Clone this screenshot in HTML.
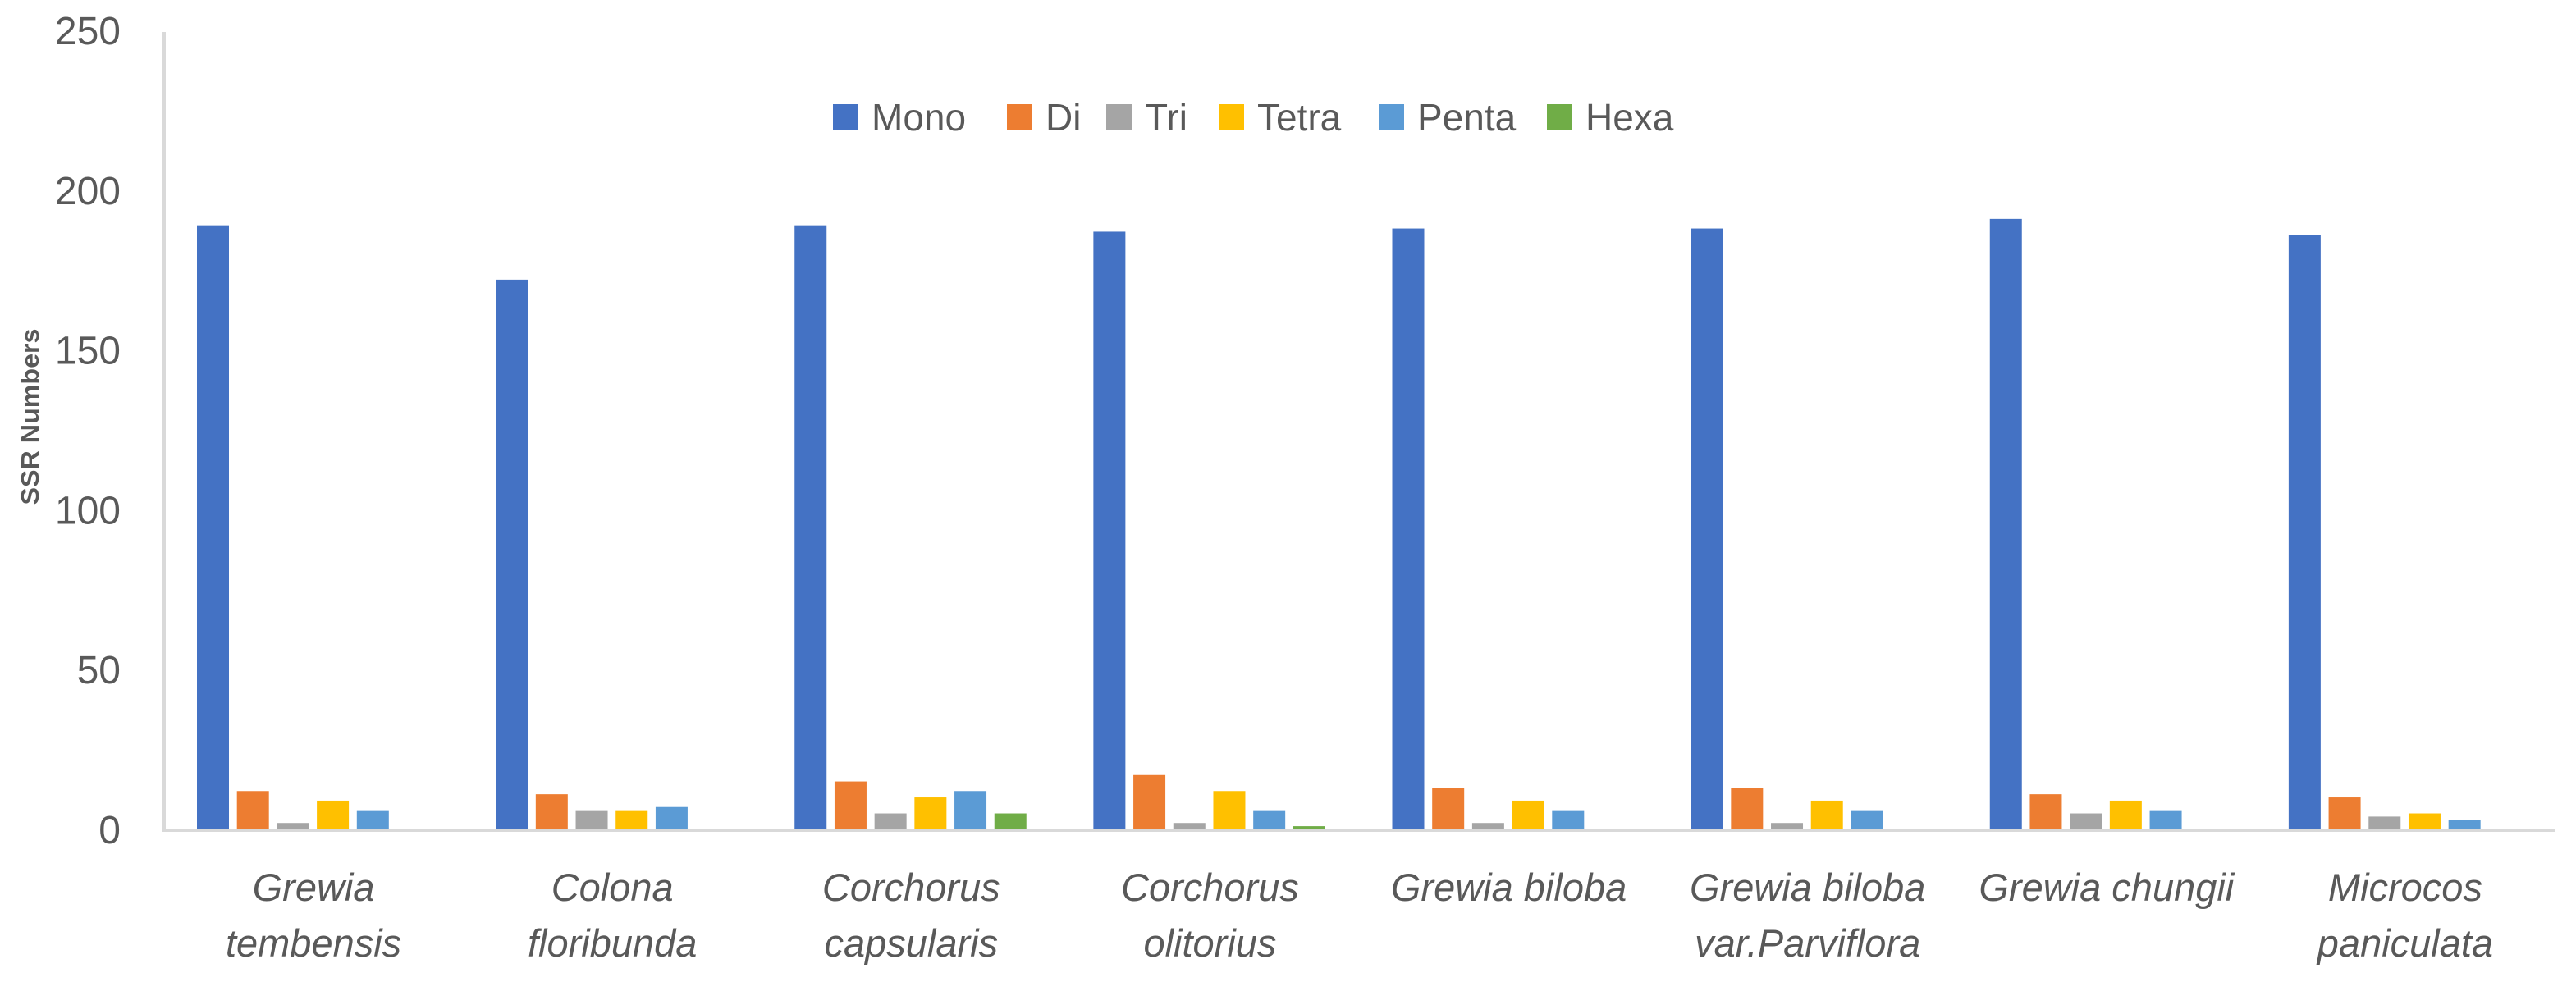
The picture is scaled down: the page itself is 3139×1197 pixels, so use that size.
<!DOCTYPE html>
<html><head><meta charset="utf-8"><style>
html,body{margin:0;padding:0;background:#fff;}
svg{display:block;}
text{font-family:"Liberation Sans",sans-serif;fill:#595959;}
</style></head><body>
<svg id="chart" width="3139" height="1197" viewBox="0 0 3139 1197" xmlns="http://www.w3.org/2000/svg">
<text transform="translate(47,508) rotate(-90)" text-anchor="middle" font-size="31" font-weight="bold" textLength="215" lengthAdjust="spacingAndGlyphs">SSR Numbers</text>
<g id="yticks"></g>
<g id="bars"></g>
<line x1="200" y1="39" x2="200" y2="1014" stroke="#d9d9d9" stroke-width="4"/>
<line x1="198" y1="1012" x2="3113" y2="1012" stroke="#d9d9d9" stroke-width="4"/>
<g id="xlabels"></g>
<g id="legend"></g>
</svg>
<script>
const categories = [["Grewia","tembensis"],["Colona","floribunda"],["Corchorus","capsularis"],["Corchorus","olitorius"],["Grewia biloba"],["Grewia biloba","var.Parviflora"],["Grewia chungii"],["Microcos","paniculata"]];
const seriesNames = ["Mono","Di","Tri","Tetra","Penta","Hexa"];
const mono  = [189,172,189,187,188,188,191,186];
const di    = [12,11,15,17,13,13,11,10];
const tri   = [2,6,5,2,2,2,5,4];
const tetra = [9,6,10,12,9,9,9,5];
const penta = [6,7,12,6,6,6,6,3];
const hexa  = [0,0,5,1,0,0,0,0];
const yTicks = [0,50,100,150,200,250];
const seriesValues = [mono,di,tri,tetra,penta,hexa];
const colors = ["#4472C4","#ED7D31","#A5A5A5","#FFC000","#5B9BD5","#70AD47"];
const NS="http://www.w3.org/2000/svg";
const x0=200, x1=3113, y0=1011, yTop=37, yMax=250;
const catW=(x1-x0)/categories.length;
const barW=39, barStep=48.7, groupOff=40;
function yScale(v){return y0-(v/yMax)*(y0-yTop);}
function xBar(i,j){return x0+catW*i+groupOff+barStep*j;}
function mk(tag,attrs){const e=document.createElementNS(NS,tag);for(const k in attrs)e.setAttribute(k,attrs[k]);return e;}
const yt=document.getElementById('yticks');
yTicks.forEach(t=>{
  const e=mk('text',{x:147,y:yScale(t)+17,'text-anchor':'end','font-size':48});
  
  
  e.textContent=t;yt.appendChild(e);
});
const bg=document.getElementById('bars');
seriesValues.forEach((arr,j)=>{
  arr.forEach((v,i)=>{
    if(v<=0)return;
    const y=yScale(v);
    const r=mk('rect',{x:xBar(i,j),y:y,width:barW,height:y0-y,fill:colors[j]});
    
    
    bg.appendChild(r);
  });
});
const xl=document.getElementById('xlabels');
categories.forEach((c,i)=>{
  const cx=x0+catW*(i+0.5);
  const e=mk('text',{x:cx,'text-anchor':'middle','font-size':47,'font-style':'italic'});
  
  
  c.forEach((line,k)=>{const s=mk('tspan',{x:cx,y:1098+k*68});s.textContent=line;e.appendChild(s);});
  xl.appendChild(e);
});
const lg=document.getElementById('legend');
const lgMarkX=[1015,1227,1348,1485,1680,1885];
seriesNames.forEach((n,j)=>{
  const g=mk('g',{});
  
  
  g.appendChild(mk('rect',{x:lgMarkX[j],y:127,width:31,height:31,fill:colors[j]}));
  const t=mk('text',{x:lgMarkX[j]+47,y:159,'font-size':46});
  t.textContent=n;g.appendChild(t);
  lg.appendChild(g);
});
</script>
</body></html>
